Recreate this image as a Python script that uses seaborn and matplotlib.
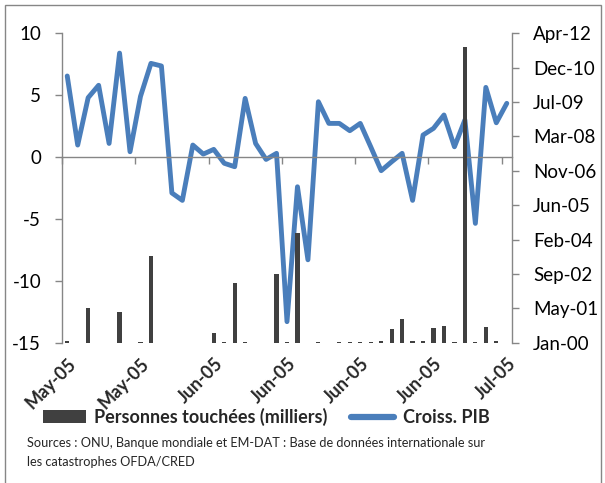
import matplotlib
matplotlib.use("Agg")
import matplotlib.pyplot as plt
from matplotlib.patches import Rectangle
from matplotlib.lines import Line2D
import seaborn as sns

# Annual series, 1970-2012
years = list(range(1970, 2013))
gdp_growth = [6.55, 0.97, 4.8, 5.8, 1.1, 8.4, 0.43, 4.9, 7.57, 7.36,
              -2.9, -3.5, 0.97, 0.24, 0.62, -0.5, -0.78, 4.74, 1.1, -0.19,
              0.3, -13.3, -2.4, -8.3, 4.47, 2.72, 2.72, 2.13, 2.72, 0.83,
              -1.1, -0.38, 0.3, -3.5, 1.78, 2.32, 3.4, 0.83, 3.0, -5.36,
              5.63, 2.77, 4.34]
affected = [30, 0, 500, 0, 0, 442, 0, 4, 1261, 0,
            0, 0, 0, 0, 137, 4, 864, 15, 0, 0,
            995, 4, 1591, 0, 4, 0, 12, 4, 4, 4,
            30, 195, 340, 30, 30, 209, 243, 4, 4300, 4,
            233, 30, 0]

x_labels = ["May-05", "May-05", "Jun-05", "Jun-05", "Jun-05", "Jun-05", "Jul-05"]
left_ticks = [-15, -10, -5, 0, 5, 10]
right_labels = ["Jan-00", "May-01", "Sep-02", "Feb-04", "Jun-05",
                "Nov-06", "Mar-08", "Jul-09", "Dec-10", "Apr-12"]

series_labels = ["Personnes touchées (milliers)", "Croiss. PIB"]
source_lines = ["Sources : ONU, Banque mondiale et EM-DAT : Base de données internationale sur",
                "les catastrophes OFDA/CRED"]

BLUE = "#4A7EBB"
BAR = "#404040"
AXIS = "#868686"

sns.set_theme(style="white")
plt.rcParams["font.family"] = ["Lato", "DejaVu Sans"]

W, H = 605, 483
fig = plt.figure(figsize=(W / 100, H / 100), dpi=100)
ax = fig.add_axes([62 / W, 1 - 342.7 / H, 450 / W, 309.4 / H])
ax2 = ax.twinx()

idx = list(range(len(years)))

sns.lineplot(x=idx, y=gdp_growth, ax=ax, color=BLUE, linewidth=3.5,
             solid_joinstyle="round", solid_capstyle="round", zorder=2)
sns.barplot(x=idx, y=affected, ax=ax2, native_scale=True, width=0.4,
            color=BAR, saturation=1, linewidth=0, zorder=3)

ax.set_xlim(-0.5, len(years) - 0.5)
ax.set_ylim(-15, 10)
ax2.set_ylim(0, 4500)
ax.set_xlabel("")
ax.set_ylabel("")
ax2.set_xlabel("")
ax2.set_ylabel("")

# spines
for s in ["top", "right"]:
    ax.spines[s].set_visible(False)
ax.spines["left"].set_color(AXIS)
ax.spines["bottom"].set_color(AXIS)
ax.spines["bottom"].set_position(("data", 0))
for s in ["top", "left", "bottom"]:
    ax2.spines[s].set_visible(False)
ax2.spines["right"].set_color(AXIS)
for sp in list(ax.spines.values()) + list(ax2.spines.values()):
    sp.set_linewidth(1.0)

# category boundary ticks on the zero line
bounds = [i - 0.5 for i in idx[::7]]
ax.set_xticks(bounds)
ax.set_xticklabels([""] * len(bounds))
ax.tick_params(axis="x", direction="out", length=5, width=1, color=AXIS, bottom=True)

# left axis
ax.set_yticks(left_ticks)
ax.set_yticklabels([str(t) for t in left_ticks])
ax.tick_params(axis="y", direction="out", length=5, width=1, color=AXIS,
               left=True, pad=10, labelsize=13.5, labelcolor="black")

# right axis
ax2.set_yticks([500 * k for k in range(len(right_labels))])
ax2.set_yticklabels(right_labels)
ax2.tick_params(axis="y", direction="out", length=5, width=1, color=AXIS,
                right=True, pad=10, labelsize=13.5, labelcolor="black")

# date labels along the bottom of the plot
sec = ax.secondary_xaxis(0.0)
sec.set_xticks(idx[::7])
sec.set_xticklabels(x_labels, rotation=45, ha="right", va="top",
                    rotation_mode="anchor", fontweight="bold", fontsize=13)
sec.tick_params(axis="x", length=0, pad=9)
sec.spines["bottom"].set_visible(False)

# legend
handles = [Rectangle((0, 0), 1, 1, facecolor=BAR, edgecolor="none"),
           Line2D([0], [0], color=BLUE, linewidth=4.5, solid_capstyle="round")]
fig.legend(handles, series_labels, loc="center", bbox_to_anchor=(266 / W, 1 - 417 / H),
           ncol=2, frameon=False, prop={"weight": "bold", "size": 13},
           handlelength=2.4, handletextpad=0.45, columnspacing=1.3)

# source note
fig.text(27 / W, 1 - 443 / H, source_lines[0], fontsize=9.2, va="center", ha="left")
fig.text(27 / W, 1 - 462 / H, source_lines[1], fontsize=9.2, va="center", ha="left")

# chart border
fig.patches.append(Rectangle((5 / W, -0.02), 596 / W, 1.02 - 5 / H,
                             transform=fig.transFigure, fill=False,
                             edgecolor=AXIS, linewidth=1.0))

fig.savefig("out.png", dpi=100)
